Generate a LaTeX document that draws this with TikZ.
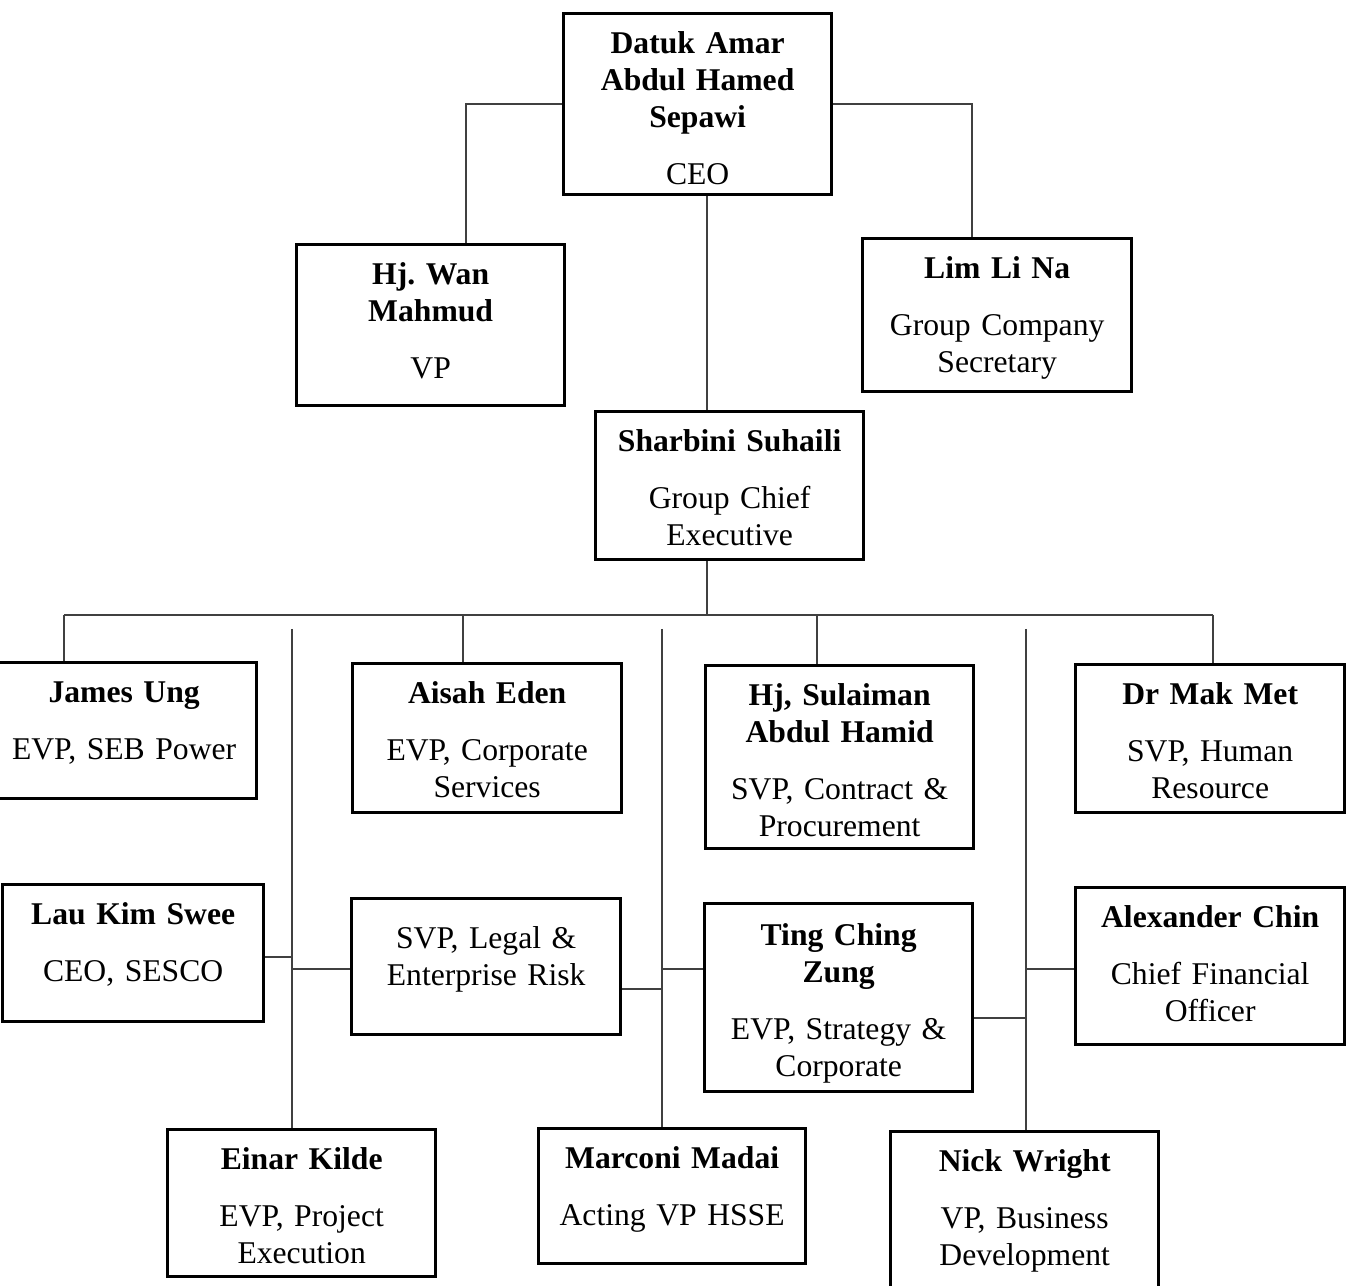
\documentclass[tikz,border=0pt]{standalone}
\usepackage{fontspec}
\setmainfont{Liberation Serif}
\usetikzlibrary{positioning}
\frenchspacing

\tikzset{
  orgbox/.style 2 args={draw=black, line width=0.9pt, anchor=north west, inner sep=0pt,
    align=center, text width=#1, text height=0.40cm, text depth=#2,
    font=\fontsize{9}{10.5}\selectfont},
  link/.style={draw=black!75, line width=0.5pt},
}
\newcommand{\namegap}{\\[5.7pt]}

\begin{document}
\begin{tikzpicture}[x=0.01cm, y=-0.01cm]
		\useasboundingbox (0,0) rectangle (1351,1286);
		\clip (0,0) rectangle (1351,1286);

		% top of the chart
		\node[orgbox={2.68cm}{1.41cm}] (ceo) at (562,12) {{\bfseries Datuk Amar\\Abdul Hamed\\Sepawi}\namegap CEO};
		\node[orgbox={2.68cm}{1.21cm}] (wan) at (295,243) {{\bfseries Hj. Wan\\Mahmud}\namegap VP};
		\node[orgbox={2.69cm}{1.13cm}] (lim) at (861,237) {{\bfseries Lim Li Na}\namegap Group Company\\Secretary};
		\node[orgbox={2.68cm}{1.08cm}] (sharbini) at (594,410) {{\bfseries Sharbini Suhaili}\namegap Group Chief\\Executive};

		% first row
		\node[orgbox={2.65cm}{0.96cm}] (james) at (-10,661) {{\bfseries James Ung}\namegap EVP, SEB Power};
		\node[orgbox={2.69cm}{1.09cm}] (aisah) at (351,662) {{\bfseries Aisah Eden}\namegap EVP, Corporate\\Services};
		\node[orgbox={2.68cm}{1.43cm}] (sulaiman) at (704,664) {{\bfseries Hj, Sulaiman\\Abdul Hamid}\namegap SVP, Contract \&\\Procurement};
		\node[orgbox={2.69cm}{1.08cm}] (mak) at (1074,663) {{\bfseries Dr Mak Met}\namegap SVP, Human\\Resource};

		% second row
		\node[orgbox={2.61cm}{0.97cm}] (lau) at (1,883) {{\bfseries Lau Kim Swee}\namegap CEO, SESCO};
		\node[orgbox={2.69cm}{0.86cm}, text height=0.50cm] (legal) at (350,897) {SVP, Legal \&\\Enterprise Risk};
		\node[orgbox={2.68cm}{1.46cm}, text height=0.42cm] (ting) at (703,902) {{\bfseries Ting Ching\\Zung}\namegap EVP, Strategy \&\\Corporate};
		\node[orgbox={2.69cm}{1.17cm}] (alex) at (1074,886) {{\bfseries Alexander Chin}\namegap Chief Financial\\Officer};

		% third row
		\node[orgbox={2.68cm}{1.07cm}] (einar) at (166,1128) {{\bfseries Einar Kilde}\namegap EVP, Project\\Execution};
		\node[orgbox={2.67cm}{0.95cm}] (marconi) at (537,1127) {{\bfseries Marconi Madai}\namegap Acting VP HSSE};
		\node[orgbox={2.68cm}{1.26cm}] (nick) at (889,1130) {{\bfseries Nick Wright}\namegap VP, Business\\Development};

		% lines
		\coordinate (trunk) at (707,615);
		\coordinate (busL) at (64,615);
		\coordinate (dropA) at (463,615);
		\coordinate (dropS) at (817,615);
		\coordinate (busR) at (1213,615);
		\coordinate (sp1) at (292,629);
		\coordinate (sp2) at (662,629);
		\coordinate (sp3) at (1026,629);

		\draw[link] (ceo.west) -| ([xshift=0.35cm]wan.north);
		\draw[link] (ceo.east) -| ([xshift=-0.255cm]lim.north);
		\draw[link] (ceo.south -| trunk) -- (sharbini.north -| trunk);
		\draw[link] (sharbini.south -| trunk) -- (trunk);
		\draw[link] (busL) -- (busR);
		\foreach \b/\n in {busL/james, dropA/aisah, dropS/sulaiman, busR/mak}
			\draw[link] (\b) -- (\n.north -| \b);
		\foreach \s/\n in {sp1/einar, sp2/marconi, sp3/nick}
			\draw[link] (\s) -- (\n.north -| \s);

		\draw[link] (lau.east |- 0,957) -- (sp1 |- 0,957);
		\draw[link] (sp1 |- 0,969) -- (legal.west |- 0,969);
		\draw[link] (legal.east |- 0,989) -- (sp2 |- 0,989);
		\draw[link] (sp2 |- 0,969) -- (ting.west |- 0,969);
		\draw[link] (ting.east |- 0,1018) -- (sp3 |- 0,1018);
		\draw[link] (sp3 |- 0,969) -- (alex.west |- 0,969);
	\end{tikzpicture}
\end{document}
